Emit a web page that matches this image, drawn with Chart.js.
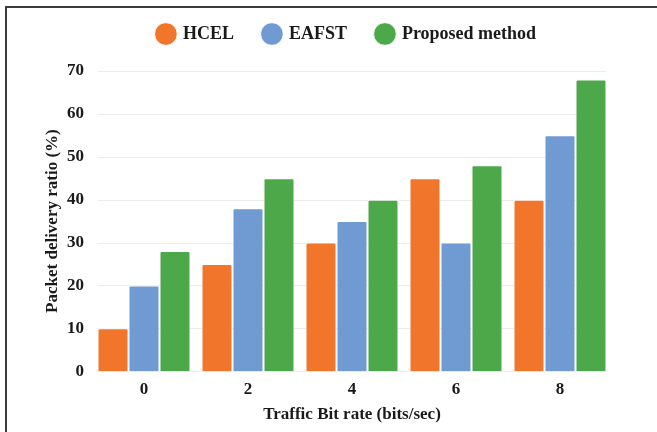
<!DOCTYPE html>
<html>
<head>
<meta charset="utf-8">
<script src="https://cdn.jsdelivr.net/npm/chart.js@4/dist/chart.umd.min.js"></script>
<style>
  html, body { margin: 0; padding: 0; background: #fff; }
  #wrap { position: relative; width: 657px; height: 432px; overflow: hidden; }
  #frame { position: absolute; left: 5px; top: 6px; width: 700px; height: 500px;
           border-top: 2px solid #3a3a3a; border-left: 2px solid #3a3a3a; }
  #c { position: absolute; left: 0; top: 0; }
</style>
</head>
<body>
<div id="wrap">
  <div id="frame"></div>
  <canvas id="c" width="657" height="432"></canvas>
</div>
<script>
// Traffic bit rate categories and packet delivery ratio (%) per method
const categories = ['0', '2', '4', '6', '8'];
const hcel = [10, 25, 30, 45, 40];
const eafst = [20, 38, 35, 30, 55];
const proposed = [28, 45, 40, 48, 68];
const seriesNames = ['HCEL', 'EAFST', 'Proposed method'];
const yTicks = [0, 10, 20, 30, 40, 50, 60, 70];

const colors = ['#F1752B', '#6F9BD2', '#4DA84A'];
const font = { family: "'Liberation Serif', 'Times New Roman', serif", weight: 'bold' };

const mk = (label, data, color) => ({
  label, data,
  backgroundColor: color,
  borderColor: 'rgba(255,255,255,0.85)',
  borderWidth: 1,
  borderRadius: 2,
  borderSkipped: 'bottom',
  barPercentage: 1.0,
  categoryPercentage: 0.894
});

// extra space below the legend row, and nudge the legend up/left
const legendGap = {
  id: 'legendGap',
  beforeInit(chart) {
    const fit = chart.legend.fit;
    chart.legend.fit = function () {
      fit.call(this);
      this.height += 10;
    };
  },
  afterLayout(chart) {
    const lg = chart.legend;
    lg.top -= 8; lg.bottom -= 8;
    lg.left -= 5; lg.right -= 5;
  }
};

// horizontal gridlines spanning only the bar groups
const barGrid = {
  id: 'barGrid',
  beforeDatasetsDraw(chart) {
    const y = chart.scales.y;
    const first = chart.getDatasetMeta(0).data[0];
    const lastMeta = chart.getDatasetMeta(chart.data.datasets.length - 1);
    const last = lastMeta.data[lastMeta.data.length - 1];
    if (!first || !last) return;
    const x0 = first.x - first.width / 2;
    const x1 = last.x + last.width / 2;
    const ctx = chart.ctx;
    ctx.save();
    ctx.strokeStyle = '#ececec';
    ctx.lineWidth = 1;
    yTicks.forEach(v => {
      const py = Math.round(y.getPixelForValue(v)) + 0.5;
      ctx.beginPath();
      ctx.moveTo(x0, py);
      ctx.lineTo(x1, py);
      ctx.stroke();
    });
    ctx.restore();
  }
};

new Chart(document.getElementById('c'), {
  type: 'bar',
  data: {
    labels: categories,
    datasets: [
      mk(seriesNames[0], hcel, colors[0]),
      mk(seriesNames[1], eafst, colors[1]),
      mk(seriesNames[2], proposed, colors[2])
    ]
  },
  plugins: [legendGap, barGrid],
  options: {
    responsive: false,
    animation: false,
    devicePixelRatio: 1,
    layout: { padding: { left: 42, right: 45, top: 3, bottom: 7 } },
    plugins: {
      legend: {
        position: 'top',
        fullSize: false,
        labels: {
          usePointStyle: true,
          pointStyle: 'circle',
          boxWidth: 16,
          boxHeight: 16,
          padding: 30,
          color: '#1a1a1a',
          font: { ...font, size: 18 }
        }
      },
      tooltip: { enabled: false }
    },
    scales: {
      x: {
        grid: { display: false },
        border: { display: false },
        ticks: { color: '#1a1a1a', font: { ...font, size: 17 }, padding: 0 },
        title: {
          display: true,
          text: 'Traffic Bit rate (bits/sec)',
          color: '#1a1a1a',
          font: { ...font, size: 17 },
          padding: { top: 5, bottom: 0 }
        }
      },
      y: {
        min: 0, max: 70,
        afterBuildTicks: (axis) => { axis.ticks = yTicks.map(v => ({ value: v })); },
        afterFit: (axis) => { axis.width = 50; },
        grid: { display: false, drawTicks: false },
        border: { display: false },
        ticks: { color: '#1a1a1a', font: { ...font, size: 17 }, padding: 8 },
        title: {
          display: true,
          text: 'Packet delivery ratio (%)',
          color: '#1a1a1a',
          font: { ...font, size: 17 },
          padding: { top: 0, bottom: 4 }
        }
      }
    }
  }
});
</script>
</body>
</html>
